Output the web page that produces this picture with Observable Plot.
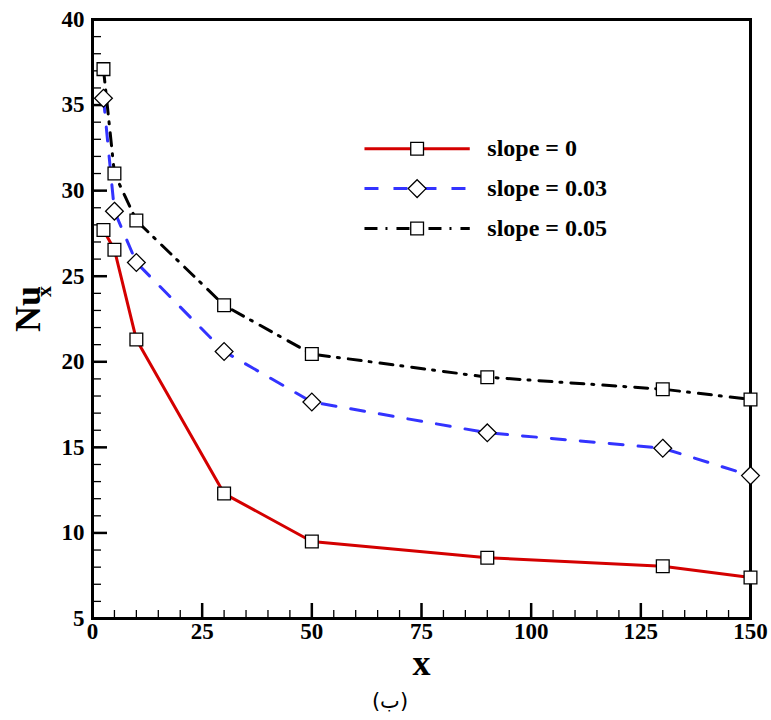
<!DOCTYPE html>
<html>
<head>
<meta charset="utf-8">
<script src="https://cdn.jsdelivr.net/npm/d3@7"></script>
<script src="https://cdn.jsdelivr.net/npm/@observablehq/plot@0.6"></script>
<style>
  html, body { margin: 0; padding: 0; background: #fff; }
  #chart { width: 771px; }
  #caption { width: 771px; height: 35px; position: relative; }
  #caption span { position: absolute; left: 390px; top: 16px; transform: translate(-50%, -50%);
    font-family: "DejaVu Sans", sans-serif; font-size: 21px; color: #000; }
</style>
</head>
<body>
<div id="chart"></div>
<div id="caption"><span dir="rtl">(ب)</span></div>
<script>
// ---- data ----
const xValues = [2.5, 5, 10, 30, 50, 90, 130, 150];
const slope0 = [27.7, 26.55, 21.3, 12.3, 9.5, 8.55, 8.05, 7.4];
const slope003 = [35.4, 28.8, 25.8, 20.6, 17.65, 15.85, 14.95, 13.35];
const slope005 = [37.1, 31.0, 28.25, 23.3, 20.45, 19.1, 18.4, 17.8];
const seriesNames = ["slope = 0", "slope = 0.03", "slope = 0.05"];
const xTicks = [0, 25, 50, 75, 100, 125, 150];
const yTicks = [5, 10, 15, 20, 25, 30, 35, 40];

// ---- styles ----
const styles = {
  "slope = 0":    {stroke: "#d40000", dash: null,        symbol: d3.symbolSquare,   r: 7.2},
  "slope = 0.03": {stroke: "#3333ff", dash: "14,15",     symbol: d3.symbolDiamond2, r: 8.0},
  "slope = 0.05": {stroke: "#000000", dash: "13,8,2,9",  symbol: d3.symbolSquare,   r: 7.2}
};

const seriesValues = [slope0, slope003, slope005];
const rows = seriesNames.flatMap((name, i) => xValues.map((x, j) => ({series: name, x, y: seriesValues[i][j]})));

// legend layout (in data units)
const legX1 = 62, legX2 = 86, legXm = 74, legXt = 90;
const legY0 = 32.45, legStep = 2.33;
const legend = seriesNames.map((name, i) => ({series: name, y: legY0 - i * legStep}));

const marks = [];
// frame
marks.push(Plot.frame({stroke: "#000", strokeWidth: 3}));
// minor / major inward ticks
marks.push(Plot.axisY({ticks: d3.range(5, 41, 1), tickSize: -9, fill: "none", strokeWidth: 1.3, label: null}));
marks.push(Plot.axisY({ticks: yTicks, tickSize: -15, fill: "none", strokeWidth: 2.5, label: null}));
marks.push(Plot.axisX({ticks: d3.range(0, 151, 5), tickSize: -8, fill: "none", strokeWidth: 1.3, label: null}));
marks.push(Plot.axisX({ticks: xTicks, tickSize: -15, fill: "none", strokeWidth: 2.5, label: null}));
// tick labels
marks.push(Plot.axisY({ticks: yTicks, tickSize: 0, tickPadding: 8, fontSize: 23, fontWeight: "bold", label: null}));
marks.push(Plot.axisX({ticks: xTicks, tickSize: 0, tickPadding: 4, fontSize: 23, fontWeight: "bold", label: null}));
// axis titles
marks.push(Plot.text(["x"], {frameAnchor: "bottom", dy: 56, fontSize: 36, fontWeight: "bold"}));
marks.push(Plot.text(["Nu"], {frameAnchor: "left", dx: -64, dy: 13, rotate: -90, fontSize: 36, fontWeight: "bold"}));
marks.push(Plot.text(["x"], {frameAnchor: "left", dx: -49, dy: -22, rotate: -90, fontSize: 22, fontWeight: "bold"}));

// series lines and markers
for (const name of seriesNames) {
  const st = styles[name];
  const d = rows.filter(r => r.series === name);
  marks.push(Plot.line(d, {x: "x", y: "y", stroke: st.stroke, strokeWidth: 3, strokeDasharray: st.dash}));
}
for (const name of seriesNames) {
  const st = styles[name];
  const d = rows.filter(r => r.series === name);
  marks.push(Plot.dot(d, {x: "x", y: "y", symbol: st.symbol, r: st.r, fill: "#fff", stroke: "#000", strokeWidth: 1.3}));
}

// legend
for (const row of legend) {
  const st = styles[row.series];
  marks.push(Plot.link([row], {x1: () => legX1, x2: () => legX2, y1: "y", y2: "y", stroke: st.stroke, strokeWidth: 3, strokeDasharray: st.dash}));
  marks.push(Plot.dot([row], {x: () => legXm, y: "y", symbol: st.symbol, r: st.r, fill: "#fff", stroke: "#000", strokeWidth: 1.3}));
  marks.push(Plot.text([row], {x: () => legXt, y: "y", text: "series", textAnchor: "start", fontSize: 24, fontWeight: "bold"}));
}

const chart = Plot.plot({
  width: 771,
  height: 685,
  marginLeft: 92,
  marginRight: 21,
  marginTop: 19,
  marginBottom: 67,
  x: {domain: [0, 150]},
  y: {domain: [5, 40]},
  style: {fontFamily: "'Liberation Serif', serif", color: "#000", background: "#fff"},
  marks
});
document.getElementById("chart").appendChild(chart);
</script>
</body>
</html>
